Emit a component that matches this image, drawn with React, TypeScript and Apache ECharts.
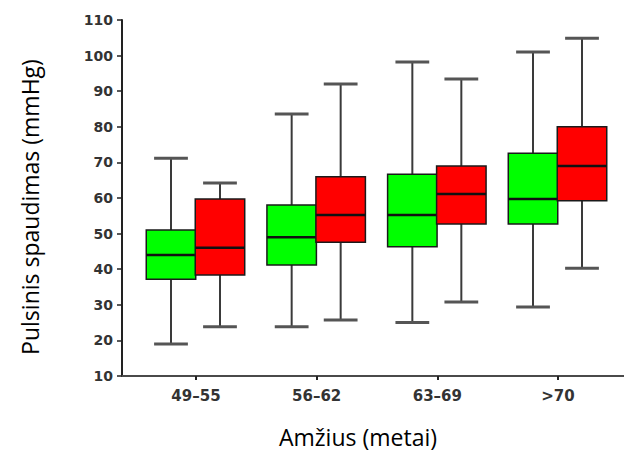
import React, { useEffect, useRef } from "react";
import * as echarts from "echarts";

const categories = ["49–55", "56–62", "63–69", ">70"];
const yTicks = [10, 20, 30, 40, 50, 60, 70, 80, 90, 100, 110];

const greenMin = [19, 23.8, 25, 29.4];
const greenQ1 = [37.2, 41.2, 46.3, 52.7];
const greenMedian = [44, 49, 55.2, 59.7];
const greenQ3 = [51, 58, 66.7, 72.6];
const greenMax = [71.2, 83.6, 98.2, 101];

const redMin = [23.8, 25.7, 30.8, 40.3];
const redQ1 = [38.4, 47.6, 52.7, 59.2];
const redMedian = [46, 55.2, 61.1, 69];
const redQ3 = [59.7, 66, 69, 80];
const redMax = [64.2, 92, 93.4, 104.9];

const xTitle = "Amžius (metai)";
const yTitle = "Pulsinis spaudimas (mmHg)";

function buildRows(mn: number[], q1: number[], md: number[], q3: number[], mx: number[]) {
  return categories.map((_, i) => [i, mn[i], q1[i], md[i], q3[i], mx[i]]);
}

function makeRender(offset: number, fill: string) {
  return (params: any, api: any) => {
    const x = api.value(0) + offset;
    const unit = api.size([1, 0])[0];
    const half = unit * 0.205;
    const cap = unit * 0.14;
    const pMin = api.coord([x, api.value(1)]);
    const pQ1 = api.coord([x, api.value(2)]);
    const pMed = api.coord([x, api.value(3)]);
    const pQ3 = api.coord([x, api.value(4)]);
    const pMax = api.coord([x, api.value(5)]);
    const cx = pMin[0];
    const wStyle = { stroke: "#3a3a3a", lineWidth: 2 };
    return {
      type: "group",
      children: [
        { type: "line", shape: { x1: cx, y1: pMax[1], x2: cx, y2: pQ3[1] }, style: wStyle },
        { type: "line", shape: { x1: cx, y1: pQ1[1], x2: cx, y2: pMin[1] }, style: wStyle },
        { type: "line", shape: { x1: cx - cap, y1: pMax[1], x2: cx + cap, y2: pMax[1] }, style: { stroke: "#555", lineWidth: 3 } },
        { type: "line", shape: { x1: cx - cap, y1: pMin[1], x2: cx + cap, y2: pMin[1] }, style: { stroke: "#555", lineWidth: 3 } },
        {
          type: "rect",
          shape: { x: cx - half, y: pQ3[1], width: half * 2, height: pQ1[1] - pQ3[1] },
          style: { fill, stroke: "#1a1a1a", lineWidth: 1.5 },
        },
        { type: "line", shape: { x1: cx - half, y1: pMed[1], x2: cx + half, y2: pMed[1] }, style: { stroke: "#111", lineWidth: 2.5 } },
      ],
    };
  };
}

export default function App() {
  const ref = useRef<HTMLDivElement>(null);
  useEffect(() => {
    if (!ref.current) return;
    const chart = echarts.init(ref.current, null, { renderer: "svg" });
    chart.setOption({
      animation: false,
      backgroundColor: "#ffffff",
      grid: { left: 122, right: 0, top: 20, bottom: 88, containLabel: false },
      xAxis: {
        type: "value",
        min: -0.613,
        max: 3.547,
        splitLine: { show: false },
        axisLine: { show: true, onZero: false, lineStyle: { color: "#4a4a4a", width: 2 } },
        axisTick: { show: true, length: 4, customValues: [0, 1, 2, 3], lineStyle: { color: "#222", width: 2 } },
        axisLabel: {
          show: true,
          customValues: [0, 1, 2, 3],
          formatter: (v: number) => categories[Math.round(v)],
          margin: 12,
          fontFamily: "DejaVu Sans",
          fontWeight: "bold",
          fontSize: 15,
          color: "#333",
        },
      },
      yAxis: {
        type: "value",
        min: 10,
        max: 110,
        interval: 10,
        splitLine: { show: false },
        axisLine: { show: true, onZero: false, lineStyle: { color: "#222", width: 2 } },
        axisTick: { show: true, length: 5, lineStyle: { color: "#222", width: 1.5 } },
        axisLabel: {
          margin: 9,
          fontFamily: "DejaVu Sans",
          fontWeight: "bold",
          fontSize: 14,
          color: "#333",
          formatter: (v: number) => (yTicks.includes(v) ? String(v) : ""),
        },
      },
      graphic: [
        {
          type: "text",
          x: 358,
          y: 437,
          style: {
            text: xTitle,
            align: "center",
            verticalAlign: "middle",
            fontFamily: "Open Sans",
            fontSize: 23,
            fill: "#000",
          },
        },
        {
          type: "text",
          x: 30,
          y: 207,
          rotation: Math.PI / 2,
          style: {
            text: yTitle,
            align: "center",
            verticalAlign: "middle",
            fontFamily: "Open Sans",
            fontSize: 23,
            fill: "#000",
          },
        },
      ],
      series: [
        {
          type: "custom",
          name: "green",
          renderItem: makeRender(-0.207, "#00ff00"),
          encode: { x: 0, y: [1, 2, 3, 4, 5] },
          data: buildRows(greenMin, greenQ1, greenMedian, greenQ3, greenMax),
        },
        {
          type: "custom",
          name: "red",
          renderItem: makeRender(0.199, "#ff0000"),
          encode: { x: 0, y: [1, 2, 3, 4, 5] },
          data: buildRows(redMin, redQ1, redMedian, redQ3, redMax),
        },
      ],
    });
    return () => chart.dispose();
  }, []);
  return <div ref={ref} style={{ width: 624, height: 464, position: "absolute", left: 0, top: 0 }} />;
}
